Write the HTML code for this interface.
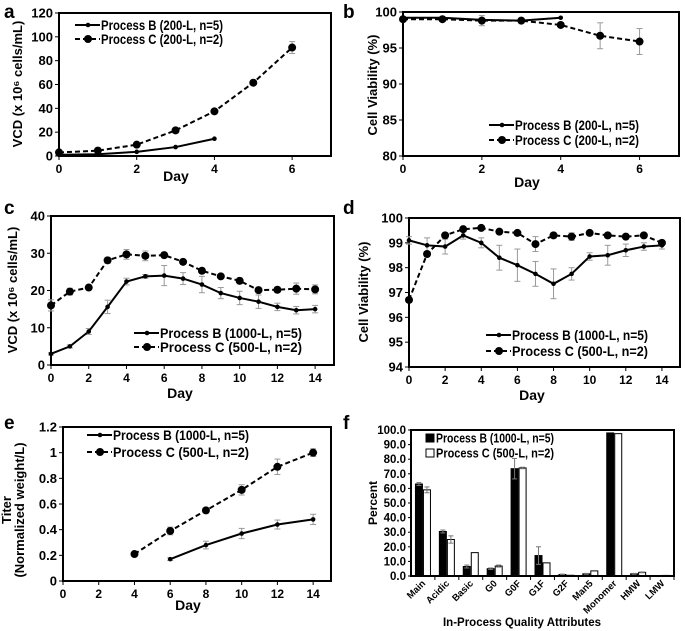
<!DOCTYPE html>
<html><head><meta charset="utf-8"><style>
html,body{margin:0;padding:0;background:#fff;}
svg{display:block;font-family:"Liberation Sans",Arial,sans-serif;font-weight:bold;}
</style></head><body>
<svg id="fig" width="685" height="631" viewBox="0 0 685 631" xmlns="http://www.w3.org/2000/svg"></svg>
<script>
// ---- data ----
const daysA = [0,1,2,3,4,5,6];
const aB = [1,1.5,3.5,7.5,14.5];
const aC = [3,4.5,9.5,21.5,37.5,61.5,91];
const aCerr = [0.5,0.5,0.8,1,1,1,5];
const bB = [99.2,99.2,98.9,98.8,99.2];
const bC = [99.0,99.0,98.8,98.8,98.2,96.7,95.9];
const bCerr = [0.2,0.2,0.7,0.2,0.3,1.8,1.8];
const days14 = [0,1,2,3,4,5,6,7,8,9,10,11,12,13,14];
const cB = [3,5,9,15.6,22.4,23.8,24,23.2,21.6,19.3,18,17,15.6,14.7,15];
const cBerr = [0.3,0.4,0.8,1.8,0.9,0.5,2.7,1.6,2.2,1.5,1.8,1.8,1,1,1];
const cC = [16,19.7,20.8,28.1,29.7,29.3,29.5,27.7,25.3,23.8,22.6,20.1,20.2,20.5,20.3];
const cCerr = [1.5,0.9,0.4,0.8,1.3,1.3,0.5,0.5,0.3,0.5,0.8,0.5,0.7,1.5,1.2];
const dB = [99.1,98.9,98.85,99.3,99.0,98.4,98.1,97.75,97.35,97.75,98.45,98.5,98.7,98.85,98.9];
const dBerr = [0.15,0.3,0.3,0.15,0.2,0.5,0.65,0.5,0.6,0.25,0.15,0.4,0.25,0.15,0.15];
const dC = [96.7,98.55,99.3,99.55,99.6,99.45,99.4,98.95,99.3,99.25,99.4,99.3,99.25,99.3,99.0];
const dCerr = [0.1,0.1,0.1,0.1,0.05,0.05,0.05,0.3,0.1,0.15,0.05,0.05,0.05,0.05,0.1];
const eBdays = [6,8,10,12,14];
const eB = [0.17,0.28,0.37,0.44,0.48];
const eBerr = [0.01,0.03,0.04,0.035,0.04];
const eCdays = [4,6,8,10,12,14];
const eC = [0.21,0.39,0.55,0.71,0.89,1.0];
const eCerr = [0.01,0.03,0.02,0.04,0.06,0.03];
const fCats = ["Main","Acidic","Basic","G0","G0F","G1F","G2F","Man5","Monomer","HMW","LMW"];
const fB = [63,30.5,6.5,5,73.5,14,1,1.5,98,1.5,0];
const fBerr = [1,1,1,0.5,7,6,0.3,0.3,0,0.3,0];
const fC = [59,25,16,6.8,74,9,0.5,3.5,97.5,2.5,0.4];
const fCerr = [2,2.5,0,0.7,0.5,0,0,0,0,0.3,0];
const fTicks = ["0.0","10.0","20.0","30.0","40.0","50.0","60.0","70.0","80.0","90.0","100.0"];

const NS="http://www.w3.org/2000/svg";
const svg=document.getElementById('fig');
function el(tag,attrs,parent,text){const e=document.createElementNS(NS,tag);for(const k in attrs)e.setAttribute(k,attrs[k]);if(text!==undefined)e.textContent=text;(parent||svg).appendChild(e);return e;}

function linePanel(o){
  const g=el('g',{});
  
  
  const X=v=>o.x0+(v-o.xmin)/(o.xmax-o.xmin)*(o.x1-o.x0);
  const Y=v=>o.y0-(v-o.ymin)/(o.ymax-o.ymin)*(o.y0-o.y1);
  // y ticks
  for(let v=o.ymin;v<=o.ymax+1e-9;v+=o.ystep){
    const t=el('text',{x:o.x0-6,y:Y(v)+4.5,'text-anchor':'end','font-size':13},g,o.yfmt?o.yfmt(v):String(Math.round(v*10)/10));
    
    
    el('line',{x1:o.x0-4,x2:o.x0,y1:Y(v),y2:Y(v),stroke:'#000','stroke-width':1},g);
  }
  for(let v=o.xmin;v<=o.xtmax;v+=o.xstep){
    const t=el('text',{x:X(v),y:o.y0+17,'text-anchor':'middle','font-size':12},g,String(v));
    
    
    el('line',{x1:X(v),x2:X(v),y1:o.y0,y2:o.y0+4,stroke:'#000','stroke-width':1},g);
  }
  const fr=el('rect',{x:o.x0,y:o.y1,width:o.x1-o.x0,height:o.y0-o.y1,fill:'none',stroke:'#000','stroke-width':2},g);
  
  
  o.series.forEach(s=>{
    const sg=el('g',{},g);
    
    
    if(s.err) s.xs.forEach((d,i)=>{const e=s.err[i];if(!e)return;
      el('line',{x1:X(d),x2:X(d),y1:Y(s.ys[i]-e),y2:Y(s.ys[i]+e),stroke:'#999','stroke-width':1},sg);
      el('line',{x1:X(d)-3,x2:X(d)+3,y1:Y(s.ys[i]-e),y2:Y(s.ys[i]-e),stroke:'#999','stroke-width':1},sg);
      el('line',{x1:X(d)-3,x2:X(d)+3,y1:Y(s.ys[i]+e),y2:Y(s.ys[i]+e),stroke:'#999','stroke-width':1},sg);});
    const pts=s.xs.map((d,i)=>X(d)+','+Y(s.ys[i])).join(' ');
    const pl=el('polyline',{points:pts,fill:'none',stroke:'#000','stroke-width':2,'stroke-dasharray':s.dash?'5,3':'none'},sg);
    
    
    s.xs.forEach((d,i)=>{const c=el('circle',{cx:X(d),cy:Y(s.ys[i]),r:s.dash?4:2.3,fill:'#000'},sg);
      
      });
  });
  // legend
  const lg=el('g',{},g);
  
  
  o.legend.labels.forEach((lab,i)=>{
    const ly=o.legend.y+i*o.legend.dy;
    const dash=i===1;
    el('line',{x1:o.legend.x,x2:o.legend.x+25,y1:ly,y2:ly,stroke:'#000','stroke-width':2,'stroke-dasharray':dash?'5,3':'none'},lg);
    el('circle',{cx:o.legend.x+13,cy:ly,r:dash?4:2.3,fill:'#000'},lg);
    const t=el('text',{x:o.legend.x+26,y:ly+5,'font-size':13.5,textLength:o.legend.tw,lengthAdjust:'spacingAndGlyphs'},lg,lab);
    
    
  });
  const xt=el('text',{x:o.xtitle[0],y:o.xtitle[1],'text-anchor':'middle','font-size':14},g,'Day');
  
  
  o.ytitle.lines.forEach((ln,i)=>{
    const yx=o.ytitle.x+i*13;
    const yt=el('text',{x:yx,y:o.ytitle.y,'text-anchor':'middle','font-size':13,transform:`rotate(-90 ${yx} ${o.ytitle.y})`},g,ln);
    
    
  });
  const pl=el('text',{x:o.letter[0],y:o.letter[1],'font-size':19},g,o.letter[2]);
  
  
}

linePanel({name:'panel-a',x0:59,x1:331,y0:156,y1:13,xmin:0,xmax:7,xtmax:6,xstep:2,ymin:0,ymax:120,ystep:20,
  series:[{name:'process-b',xs:daysA.slice(0,aB.length),ys:aB},{name:'process-c',xs:daysA,ys:aC,err:aCerr,dash:true}],
  legend:{x:75,y:25,dy:14,labels:['Process B (200-L, n=5)','Process C (200-L, n=2)'],tw:122},
  xtitle:[176,181],ytitle:{x:22,y:84,lines:['VCD (x 10⁶ cells/mL)']},letter:[4,18,'a']});
linePanel({name:'panel-b',x0:403,x1:679,y0:156,y1:12,xmin:0,xmax:7,xtmax:6,xstep:2,ymin:80,ymax:100,ystep:5,
  series:[{name:'process-b',xs:daysA.slice(0,bB.length),ys:bB},{name:'process-c',xs:daysA,ys:bC,err:bCerr,dash:true}],
  legend:{x:489,y:125,dy:15,labels:['Process B (200-L, n=5)','Process C (200-L, n=2)'],tw:124},
  xtitle:[527,187],ytitle:{x:377,y:85,lines:['Cell Viability (%)']},letter:[343,18,'b']});
linePanel({name:'panel-c',x0:51,x1:334,y0:365,y1:216,xmin:0,xmax:15,xtmax:14,xstep:2,ymin:0,ymax:40,ystep:10,
  series:[{name:'process-b',xs:days14,ys:cB,err:cBerr},{name:'process-c',xs:days14,ys:cC,err:cCerr,dash:true}],
  legend:{x:134,y:333,dy:14,labels:['Process B (1000-L, n=5)','Process C (500-L, n=2)'],tw:142},
  xtitle:[180,398],ytitle:{x:17,y:290,lines:['VCD (x 10⁶ cells/mL)']},letter:[4,214,'c']});
linePanel({name:'panel-d',x0:409,x1:680,y0:367,y1:218,xmin:0,xmax:15,xtmax:14,xstep:2,ymin:94,ymax:100,ystep:1,
  series:[{name:'process-b',xs:days14,ys:dB,err:dBerr},{name:'process-c',xs:days14,ys:dC,err:dCerr,dash:true}],
  legend:{x:486,y:335,dy:16,labels:['Process B (1000-L, n=5)','Process C (500-L, n=2)'],tw:136},
  xtitle:[532,400],ytitle:{x:368,y:292,lines:['Cell Viability (%)']},letter:[343,214,'d']});
linePanel({name:'panel-e',x0:63,x1:331,y0:581,y1:427,xmin:0,xmax:15,xtmax:14,xstep:2,ymin:0,ymax:1.2,ystep:0.2,
  series:[{name:'process-b',xs:eBdays,ys:eB,err:eBerr},{name:'process-c',xs:eCdays,ys:eC,err:eCerr,dash:true}],
  legend:{x:87,y:435,dy:17,labels:['Process B (1000-L, n=5)','Process C (500-L, n=2)'],tw:136},
  xtitle:[188,610],ytitle:{x:11,y:510,lines:['Titer','(Normalized weight/L)']},letter:[4,429,'e']});

// panel f bar chart
(function(){
  const g=el('g',{});
  
  
  const x0=411,x1=674,y0=576,y1=430;
  const Y=v=>y0-v/100*(y0-y1);
  const step=(x1-x0)/fCats.length;
  fTicks.forEach(tk=>{const v=parseFloat(tk);
    const t=el('text',{x:x0-5,y:Y(v)+4,'text-anchor':'end','font-size':11.5},g,tk);
    
    
    el('line',{x1:x0-3,x2:x0,y1:Y(v),y2:Y(v),stroke:'#000'},g);});
  fCats.forEach((c,i)=>{
    const cx=x0+step*(i+0.5);
    const bw=7;
    const rb=el('rect',{x:cx-bw-0.5,y:Y(fB[i]),width:bw,height:y0-Y(fB[i]),fill:'#000',stroke:'#000','stroke-width':1},g);
    
    
    const rc=el('rect',{x:cx+0.5,y:Y(fC[i]),width:bw,height:y0-Y(fC[i]),fill:'#fff',stroke:'#000','stroke-width':1},g);
    
    
    [[cx-bw/2-0.5,fB[i],fBerr[i]],[cx+bw/2+0.5,fC[i],fCerr[i]]].forEach(([ex,v,e])=>{if(!e)return;
      el('line',{x1:ex,x2:ex,y1:Y(v-e),y2:Y(v+e),stroke:'#777'},g);
      el('line',{x1:ex-2.5,x2:ex+2.5,y1:Y(v+e),y2:Y(v+e),stroke:'#777'},g);
      el('line',{x1:ex-2.5,x2:ex+2.5,y1:Y(v-e),y2:Y(v-e),stroke:'#777'},g);});
    el('line',{x1:x0+step*(i+1),x2:x0+step*(i+1),y1:y0,y2:y0+4,stroke:'#000'},g);
    const t=el('text',{x:cx+3,y:y0+8,'text-anchor':'end','font-size':9.5,transform:`rotate(-45 ${cx+3} ${y0+8})`},g,c);
    
    
  });
  const fr=el('rect',{x:x0,y:y1,width:x1-x0,height:y0-y1,fill:'none',stroke:'#000','stroke-width':2},g);
  
  
  ['Process B (1000-L, n=5)','Process C (500-L, n=2)'].forEach((lab,i)=>{
    const ly=438+i*15;
    el('rect',{x:426,y:ly-4,width:8,height:8,fill:i?'#fff':'#000',stroke:'#000'},g);
    const t=el('text',{x:436,y:ly+4.5,'font-size':12.5,textLength:118,lengthAdjust:'spacingAndGlyphs'},g,lab);
    
    
  });
  const yt=el('text',{x:377,y:503,'text-anchor':'middle','font-size':12,transform:'rotate(-90 377 503)'},g,'Percent');
  
  
  const xt=el('text',{x:522,y:626,'text-anchor':'middle','font-size':11.5},g,'In-Process Quality Attributes');
  
  
  const pl=el('text',{x:343,y:429,'font-size':19},g,'f');
  
  
})();
</script>
</body></html>
